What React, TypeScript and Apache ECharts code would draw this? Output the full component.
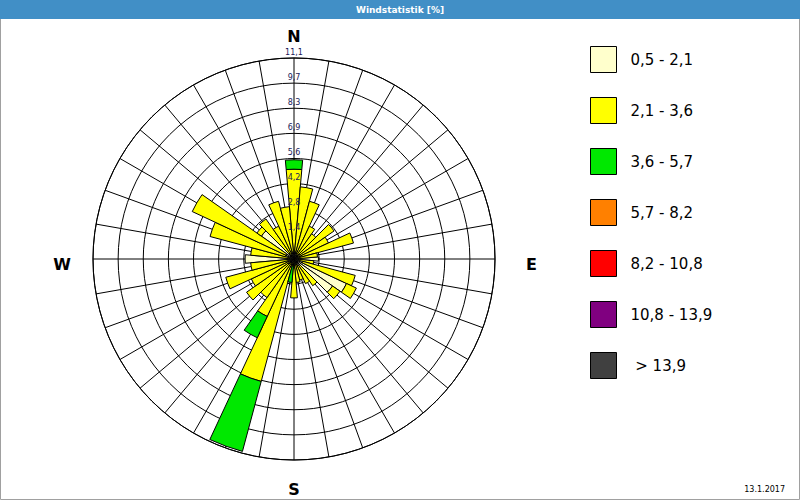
import React, { useEffect, useRef } from 'react';
import * as echarts from 'echarts';

// Wind directions (degrees, clockwise from north)
const directions = [
  '0', '10', '20', '30', '40', '50', '60', '70', '80',
  '90', '100', '110', '120', '130', '140', '150', '160', '170',
  '180', '190', '200', '210', '220', '230', '240', '250', '260',
  '270', '280', '290', '300', '310', '320', '330', '340', '350',
];

// Frequency [%] per speed class and direction
const class1 = [0.5, 0.4, 0.4, 0.3, 0.3, 0.4, 0.3, 0.4, 0.3, 1.35, 0.3, 0.5, 3.2, 2.6, 0.5, 0.4, 0.3, 0.3, 0.5, 0.2, 0.4, 0.3, 0.3, 0.4, 0.3, 0.4, 0.3, 2.7, 0.3, 0.5, 0.5, 2.2, 0.4, 0.3, 0.4, 0.4];
const class2 = [4.46, 3.6, 2.9, 1.7, 1.4, 2.3, 1.8, 3.0, 1.0, 0, 0.8, 3.0, 0.6, 0.5, 1.3, 1.1, 0.9, 1.0, 1.65, 0.2, 6.6, 3.2, 2.3, 2.8, 2.3, 3.5, 2.1, 0, 2.1, 4.3, 5.7, 0.3, 2.3, 1.7, 2.9, 2.5];
const class3 = [0.52, 0, 0, 0, 0, 0, 0, 0, 0, 0, 0, 0, 0, 0, 0, 0, 0, 0, 0, 0.9, 4.0, 1.3, 0, 0, 0, 0, 0, 0, 0, 0, 0, 0, 0, 0, 0, 0];
const class4 = [0, 0, 0, 0, 0, 0, 0, 0, 0, 0, 0, 0, 0, 0, 0, 0, 0, 0, 0, 0, 0, 0, 0, 0, 0, 0, 0, 0, 0, 0, 0, 0, 0, 0, 0, 0];
const class5 = [0, 0, 0, 0, 0, 0, 0, 0, 0, 0, 0, 0, 0, 0, 0, 0, 0, 0, 0, 0, 0, 0, 0, 0, 0, 0, 0, 0, 0, 0, 0, 0, 0, 0, 0, 0];
const class6 = [0, 0, 0, 0, 0, 0, 0, 0, 0, 0, 0, 0, 0, 0, 0, 0, 0, 0, 0, 0, 0, 0, 0, 0, 0, 0, 0, 0, 0, 0, 0, 0, 0, 0, 0, 0];
const class7 = [0, 0, 0, 0, 0, 0, 0, 0, 0, 0, 0, 0, 0, 0, 0, 0, 0, 0, 0, 0, 0, 0, 0, 0, 0, 0, 0, 0, 0, 0, 0, 0, 0, 0, 0, 0];

const classNames = ['0,5 - 2,1', '2,1 - 3,6', '3,6 - 5,7', '5,7 - 8,2', '8,2 - 10,8', '10,8 - 13,9', ' > 13,9'];
const classColors = ['#FFFFCC', '#FFFF00', '#00E800', '#FF8000', '#FF0000', '#800080', '#404040'];
const classValues = [class1, class2, class3, class4, class5, class6, class7];

// Radius axis
const radiusMax = 11.1;
const radiusStep = 1.3875;
const radiusLabels = ['1,4', '2,8', '4,2', '5,6', '6,9', '8,3', '9,7', '11,1'];

// Compass labels
const compassLabels: Record<number, string> = { 0: '{n|N}', 90: '{e|E}', 180: '{s|S}', 270: '{w|W}' };

const titleText = 'Windstatistik [%]';
const dateText = '13.1.2017';

const CX = 294;
const CY = 259;
const R = 201;
const FONT = 'DejaVu Sans';

export default function App() {
  const ref = useRef<HTMLDivElement>(null);

  useEffect(() => {
    if (!ref.current) return;
    const chart = echarts.init(ref.current, null, { renderer: 'svg' });
    const polarBox = { center: [CX, CY], radius: R };
    const letter = { fontFamily: FONT, fontSize: 16, fontWeight: 'bold', color: '#000' };
    const option: any = {
      animation: false,
      backgroundColor: '#ffffff',
      polar: [polarBox, polarBox, polarBox],
      angleAxis: [
        {
          polarIndex: 0,
          type: 'value',
          min: 0,
          max: 360,
          interval: 10,
          startAngle: 90,
          clockwise: true,
          z: 1,
          axisLine: { show: true, lineStyle: { color: '#000', width: 1 } },
          axisTick: { show: false },
          splitLine: { show: true, lineStyle: { color: '#000', width: 1 } },
          axisLabel: {
            margin: 12,
            formatter: (v: number) => compassLabels[v] ?? '',
            rich: {
              n: { ...letter, padding: [0, 0, 2, 0] },
              e: { ...letter, padding: [10, 0, 0, 19] },
              s: { ...letter, padding: [9, 0, 0, 0] },
              w: { ...letter, padding: [10, 10, 0, 0] },
            },
          },
        },
        {
          polarIndex: 1,
          type: 'category',
          data: directions,
          startAngle: 95,
          clockwise: true,
          axisLine: { show: false },
          axisTick: { show: false },
          axisLabel: { show: false },
          splitLine: { show: false },
        },
        {
          polarIndex: 2,
          type: 'value',
          min: 0,
          max: 360,
          startAngle: 90,
          clockwise: true,
          axisLine: { show: false },
          axisTick: { show: false },
          axisLabel: { show: false },
          splitLine: { show: false },
        },
      ],
      radiusAxis: [
        {
          polarIndex: 0,
          type: 'value',
          min: 0,
          max: radiusMax,
          interval: radiusStep,
          z: 1,
          axisLine: { show: false },
          axisTick: { show: false },
          axisLabel: { show: false },
          splitLine: { show: true, lineStyle: { color: '#000', width: 1 } },
        },
        {
          polarIndex: 1,
          type: 'value',
          min: 0,
          max: radiusMax,
          axisLine: { show: false },
          axisTick: { show: false },
          axisLabel: { show: false },
          splitLine: { show: false },
        },
        {
          polarIndex: 2,
          type: 'value',
          min: 0,
          max: radiusMax,
          interval: radiusStep,
          z: 20,
          axisLine: { show: false },
          axisTick: { show: false },
          splitLine: { show: false },
          axisLabel: {
            margin: 0,
            align: 'center',
            verticalAlign: 'bottom',
            padding: [0, 0, 2, 0],
            fontFamily: FONT,
            fontSize: 8,
            color: '#1a1a5a',
            formatter: (_v: number, i: number) => (i === 0 ? '' : radiusLabels[i - 1] ?? ''),
          },
        },
      ],
      legend: {
        orient: 'vertical',
        left: 590,
        top: 46,
        padding: 0,
        itemWidth: 26,
        itemHeight: 26,
        itemGap: 24,
        icon: 'rect',
        selectedMode: false,
        data: classNames,
        itemStyle: { borderColor: '#000', borderWidth: 1 },
        textStyle: { fontFamily: FONT, fontSize: 15, color: '#000', padding: [0, 0, 0, 9] },
      },
      graphic: [
        { type: 'rect', z: 100, shape: { x: 0, y: 0, width: 800, height: 19 }, style: { fill: '#418fc6' } },
        {
          type: 'text', z: 101, x: 400, y: 10,
          style: { text: titleText, fill: '#fff', font: `bold 9px "${FONT}"`, align: 'center', verticalAlign: 'middle' },
        },
        {
          type: 'text', z: 101, x: 785, y: 489,
          style: { text: dateText, fill: '#000', font: `8px "${FONT}"`, align: 'right', verticalAlign: 'middle' },
        },
        {
          type: 'rect', z: 99, shape: { x: 0.5, y: 0.5, width: 799, height: 499 },
          style: { fill: 'none', stroke: '#a0a0a0', lineWidth: 1 },
        },
      ],
      series: classNames.map((name, k) => ({
        type: 'bar',
        name,
        coordinateSystem: 'polar',
        polarIndex: 1,
        stack: 'wind',
        barCategoryGap: '0%',
        z: 5,
        silent: true,
        itemStyle: { color: classColors[k], borderColor: '#000', borderWidth: 1 },
        data: classValues[k].map((v) => (v > 0 ? v : null)),
      })),
    };
    chart.setOption(option);
    return () => chart.dispose();
  }, []);

  return <div ref={ref} style={{ position: 'absolute', left: 0, top: 0, width: 800, height: 500 }} />;
}
